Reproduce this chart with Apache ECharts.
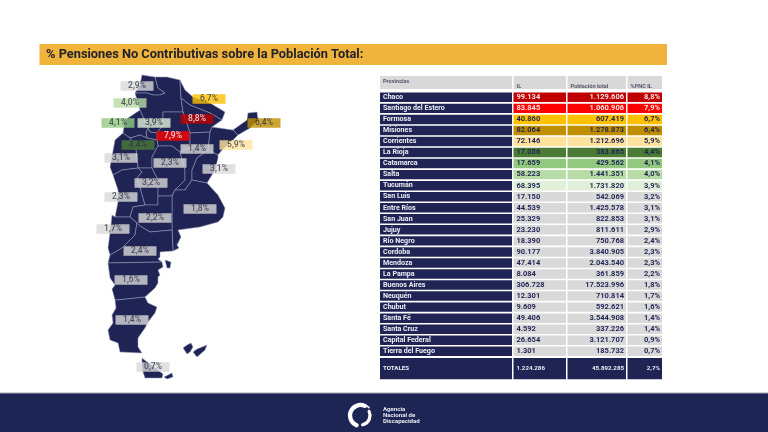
<!DOCTYPE html>
<html>
<head>
<meta charset="utf-8">
<style>
  html, body { margin: 0; padding: 0; background: #fff; }
  #chart { width: 768px; height: 432px; }
</style>
<script src="https://cdn.jsdelivr.net/npm/echarts@6/dist/echarts.min.js"></script>
</head>
<body>
<div id="chart"></div>
<script>
const titleText = '% Pensiones No Contributivas sobre la Población Total:'
const headers = ['Provincias', 'IL', 'Población total', '%PNC IL']
const provinces = ['Chaco', 'Santiago del Estero', 'Formosa', 'Misiones', 'Corrientes', 'La Rioja', 'Catamarca', 'Salta', 'Tucumán', 'San Luis', 'Entre Ríos', 'San Juan', 'Jujuy', 'Río Negro', 'Cordoba', 'Mendoza', 'La Pampa', 'Buenos Aires', 'Neuquén', 'Chubut', 'Santa Fé', 'Santa Cruz', 'Capital Federal', 'Tierra del Fuego']
const il = [99134, 83845, 40860, 82064, 72146, 17056, 17659, 58223, 68395, 17150, 44539, 25329, 23230, 18390, 90177, 47414, 8084, 306728, 12301, 9609, 49406, 4592, 26654, 1301]
const poblacion = [1129606, 1060906, 607419, 1278873, 1212696, 383865, 429562, 1441351, 1731820, 542069, 1425578, 822853, 811611, 750768, 3840905, 2043540, 361859, 17523996, 710814, 592621, 3544908, 337226, 3121707, 185732]
const pnc = [8.8, 7.9, 6.7, 6.4, 5.9, 4.4, 4.1, 4.0, 3.9, 3.2, 3.1, 3.1, 2.9, 2.4, 2.3, 2.3, 2.2, 1.8, 1.7, 1.6, 1.4, 1.4, 0.9, 0.7]
const totalLabel = 'TOTALES'
const totalIl = 1224286
const totalPoblacion = 45892285
const totalPnc = 2.7
const logoLines = ['Agencia', 'Nacional de', 'Discapacidad']

const navy = '#1f2454'
const grey = '#d9d9d9'
const rowFill = {
  'Chaco': '#c00000', 'Santiago del Estero': '#ff0000', 'Formosa': '#ffc000', 'Misiones': '#bf8f00',
  'Corrientes': '#ffe39c', 'La Rioja': '#4a7c34', 'Catamarca': '#92c97f', 'Salta': '#b8dca6', 'Tucumán': '#e0f0d8'
}
const lightText = ['Chaco', 'Santiago del Estero']

// map sketch: province outlines, in page pixels
const mapShapes = {
  'Jujuy': [[[142,75],[155,77],[158,88],[165,93],[160,95],[153,95],[147,93],[135,93],[140,85]]],
  'Salta': [[[155,77],[167,77],[180,80],[181,98],[183,112],[163,112],[163,125],[157,133],[150,132],[148,128],[140,110],[135,93],[147,93],[153,95],[160,95],[165,93],[158,88]]],
  'Formosa': [[[180,80],[185,90],[193,97],[210,103],[225,112],[222,120],[210,113],[190,105],[181,98]]],
  'Chaco': [[[181,98],[190,105],[210,113],[222,120],[212,127],[210,132],[190,133],[183,112]]],
  'Santiago del Estero': [[[163,112],[183,112],[190,133],[190,148],[180,152],[172,146],[158,146],[157,140],[157,133],[163,125]]],
  'Tucumán': [[[148,128],[150,132],[157,133],[157,140],[147,138],[146,132]]],
  'Catamarca': [[[125,120],[140,110],[148,128],[146,132],[147,138],[140,135],[130,138],[123,133]]],
  'La Rioja': [[[130,138],[140,135],[147,138],[157,140],[158,146],[152,157],[152,168],[138,168],[136,150]]],
  'San Juan': [[[115,140],[123,133],[130,138],[136,150],[138,168],[122,170],[113,175],[110,167]]],
  'Mendoza': [[[113,175],[122,170],[138,168],[142,172],[137,178],[140,187],[145,205],[133,207],[130,217],[115,217],[118,202],[118,190]]],
  'San Luis': [[[138,168],[152,168],[158,180],[158,196],[158,205],[145,205],[140,187],[137,178],[142,172]]],
  'Cordoba': [[[158,146],[172,146],[180,152],[185,170],[185,180],[175,190],[172,196],[158,196],[158,180],[152,168],[152,157]]],
  'Santa Fé': [[[190,133],[210,132],[208,150],[197,158],[192,170],[192,180],[185,190],[175,190],[185,180],[185,170],[180,152],[190,148]]],
  'Corrientes': [[[210,132],[212,127],[233,130],[238,135],[233,140],[222,150],[218,155],[208,150]]],
  'Misiones': [[[233,130],[247,120],[248,113],[257,112],[258,120],[250,128],[238,135]]],
  'Entre Ríos': [[[208,150],[218,155],[218,158],[215,170],[207,183],[192,180],[192,170],[197,158]]],
  'Buenos Aires': [[[172,196],[175,190],[185,190],[192,180],[207,183],[218,195],[225,208],[223,217],[218,222],[200,227],[178,230],[181,237],[177,245],[179,248],[173,251],[172,230]]],
  'La Pampa': [[[133,207],[145,205],[158,205],[158,196],[172,196],[172,230],[150,232],[140,226],[137,223],[130,217]]],
  'Neuquén': [[[115,217],[130,217],[137,223],[135,235],[122,248],[110,255],[108,248],[111,225],[112,215]]],
  'Río Negro': [[[137,223],[140,226],[150,232],[172,230],[173,251],[160,252],[160,257],[158,259],[162,262],[108,263],[110,255],[122,248],[135,235]]],
  'Chubut': [[[108,263],[162,262],[163,267],[158,270],[160,275],[158,277],[158,283],[155,288],[145,297],[117,300],[115,300],[112,289],[115,285],[110,278]]],
  'Santa Cruz': [[[115,300],[117,300],[145,297],[148,303],[157,307],[155,313],[148,322],[145,328],[138,338],[138,347],[142,353],[120,352],[118,343],[110,340],[108,330],[113,323],[112,315],[116,308]]],
  'Tierra del Fuego': [[[142,358],[147,362],[163,374],[162,378],[145,378],[143,372],[142,365]]],
  'Tierra del Fuego 2': [[[164,377],[172,373],[173,377],[167,379]]],
  'Valdés': [[[165,260],[171,262],[170,268],[167,268]]],
  'Malvinas Oeste': [[[183,348],[187,345],[191,343],[193,347],[190,352],[187,354]]],
  'Malvinas Este': [[[197,349],[207,345],[205,350],[197,357],[193,352]]]
}

// where each percentage tag sits on the map
const tagAnchor = {
  'Jujuy': [137,86], 'Salta': [130,103], 'Catamarca': [118,123], 'Tucumán': [154,123], 'Chaco': [197,119],
  'Formosa': [209,99], 'Misiones': [264,123], 'Santiago del Estero': [173,136], 'Corrientes': [236,145],
  'La Rioja': [138,145], 'Santa Fé': [197,149], 'San Juan': [121,158], 'Cordoba': [170,163], 'Entre Ríos': [219,169],
  'San Luis': [151,183], 'Mendoza': [121,197], 'Buenos Aires': [200,209], 'La Pampa': [155,218], 'Neuquén': [113,229],
  'Río Negro': [140,251], 'Chubut': [131,280], 'Santa Cruz': [132,320], 'Tierra del Fuego': [153,367]
}

const columns = [[380,512],[513.5,566],[567.5,626],[627.5,662]]
const fontFamily = 'Roboto, sans-serif'

function miles(n) {
  return String(n).replace(/\B(?=(\d{3})+$)/g, '.')
}
function pct(n) {
  return n.toFixed(1).replace('.', ',') + '%'
}

const geoJson = {
  type: 'FeatureCollection',
  features: Object.keys(mapShapes).map(function (name) {
    return { type: 'Feature', properties: { name: name }, geometry: { type: 'Polygon', coordinates: mapShapes[name] } }
  })
}
echarts.registerMap('argentina', geoJson)

const tagData = provinces.filter(function (p) { return tagAnchor[p] }).map(function (p) {
  const i = provinces.indexOf(p)
  return {
    value: tagAnchor[p],
    name: pct(pnc[i]),
    itemStyle: { color: rowFill[p] || grey },
    label: { color: lightText.indexOf(p) >= 0 ? '#fff' : '#2e3440' }
  }
})

function cell(api, col, row, text, o) {
  const x0 = api.coord([columns[col][0], row])[0]
  const x1 = api.coord([columns[col][1], row])[0]
  const yc = api.coord([380, row])[1]
  const h = api.size([0, 1])[1] - o.gap
  let tx = x0 + 3
  if (o.align === 'right') tx = x1 - 2
  return {
    type: 'group',
    children: [
      { type: 'rect', shape: { x: x0, y: yc - h / 2, width: x1 - x0, height: h }, style: { fill: o.fill } },
      { type: 'text', x: tx, y: yc + (o.dy || 0), style: {
        text: text, fill: o.color, fontSize: o.size, fontWeight: 'bold', fontFamily: fontFamily,
        align: o.align || 'left', verticalAlign: 'middle'
      } }
    ]
  }
}

function renderHeader(params, api) {
  const c = api.value(0)
  return cell(api, c, 0, headers[c], { fill: grey, color: '#55586a', size: 5.6, gap: 0, dy: c === 0 ? -0.5 : 4 })
}
function renderBody(params, api) {
  const c = api.value(0)
  const r = api.value(1)
  const p = provinces[r]
  if (c === 0) return cell(api, c, r, p, { fill: navy, color: '#eceef5', size: 7.1, gap: 1.6 })
  const texts = [null, miles(il[r]), miles(poblacion[r]), pct(pnc[r])]
  return cell(api, c, r, texts[c], {
    fill: rowFill[p] || grey,
    color: lightText.indexOf(p) >= 0 ? '#f6e3e3' : navy,
    size: 7.5, gap: 1.6, align: c === 1 ? 'left' : 'right'
  })
}
function renderTotal(params, api) {
  const c = api.value(0)
  const texts = [totalLabel, miles(totalIl), miles(totalPoblacion), pct(totalPnc)]
  return cell(api, c, 0, texts[c], { fill: navy, color: '#eceef5', size: 6.2, gap: 0, align: c < 2 ? 'left' : 'right' })
}

const colIdx = columns.map(function (c, i) { return i })
const bodyCells = []
provinces.forEach(function (p, r) {
  colIdx.forEach(function (c) { bodyCells.push([c, r]) })
})

const tableGrids = [
  { left: 380, width: 282, top: 76, height: 13 },
  { left: 380, width: 282, top: 91.8, height: 265 },
  { left: 380, width: 282, top: 358, height: 21.2 }
]
const tableRows = [['h'], provinces, ['t']]

const chart = echarts.init(document.getElementById('chart'))
chart.setOption({
  animation: false,
  backgroundColor: '#fff',
  title: {
    text: titleText, left: 46, top: 48, padding: 0,
    textStyle: { fontFamily: fontFamily, fontWeight: 'bold', fontSize: 12.8, color: '#22222a' }
  },
  grid: tableGrids,
  xAxis: tableGrids.map(function (g, i) {
    return { gridIndex: i, type: 'value', min: 380, max: 662, show: false }
  }),
  yAxis: tableGrids.map(function (g, i) {
    return { gridIndex: i, type: 'category', data: tableRows[i], inverse: true, show: false }
  }),
  geo: {
    map: 'argentina',
    projection: { project: function (p) { return p }, unproject: function (p) { return p } },
    aspectScale: 1,
    left: 108, top: 75, width: 150, height: 304,
    silent: true,
    label: { show: false },
    itemStyle: { areaColor: navy, borderColor: '#9aa0c0', borderWidth: 0.5 },
    emphasis: { disabled: true }
  },
  series: [
    { type: 'custom', coordinateSystem: 'cartesian2d', xAxisIndex: 0, yAxisIndex: 0, clip: false, silent: true, renderItem: renderHeader, data: colIdx.map(function (c) { return [c, 0] }) },
    { type: 'custom', coordinateSystem: 'cartesian2d', xAxisIndex: 1, yAxisIndex: 1, clip: false, silent: true, renderItem: renderBody, data: bodyCells },
    { type: 'custom', coordinateSystem: 'cartesian2d', xAxisIndex: 2, yAxisIndex: 2, clip: false, silent: true, renderItem: renderTotal, data: colIdx.map(function (c) { return [c, 0] }) },
    {
      type: 'scatter', coordinateSystem: 'geo', geoIndex: 0, symbol: 'rect', symbolSize: [33, 9.5], silent: true, z: 5,
      data: tagData,
      label: { show: true, position: 'inside', formatter: '{b}', fontSize: 8.5, fontFamily: fontFamily, fontWeight: 500 }
    }
  ],
  graphic: [
    { type: 'rect', z: -1, shape: { x: 39.5, y: 44, width: 627.5, height: 21 }, style: { fill: '#f0b33c' } },
    { type: 'rect', z: -1, shape: { x: 0, y: 392.5, width: 768, height: 1.2 }, style: { fill: '#9a9eaa' } },
    { type: 'rect', z: -1, shape: { x: 0, y: 393.5, width: 768, height: 38.5 }, style: { fill: '#1d2555' } },
    { type: 'arc', shape: { cx: 360.5, cy: 415.5, r: 10.5, startAngle: -1.15, endAngle: 1.95, clockwise: false }, style: { stroke: '#fff', lineWidth: 4.2, fill: null, lineCap: 'round' } },
    { type: 'arc', shape: { cx: 360.5, cy: 415.5, r: 9.5, startAngle: -0.45, endAngle: 1.35, clockwise: true }, style: { stroke: '#fff', lineWidth: 3.2, fill: null, lineCap: 'round' } },
    { type: 'arc', shape: { cx: 360.5, cy: 415.5, r: 11.5, startAngle: -1.15, endAngle: -0.75, clockwise: true }, style: { stroke: '#fff', lineWidth: 1.6, fill: null, lineCap: 'round' } },
    { type: 'text', x: 383, y: 415.5, style: { text: logoLines.join('\n'), fill: '#e6e8f0', fontSize: 6.1, fontWeight: 'bold', lineHeight: 6.2, fontFamily: fontFamily, verticalAlign: 'middle', align: 'left' } }
  ]
})
</script>
</body>
</html>
